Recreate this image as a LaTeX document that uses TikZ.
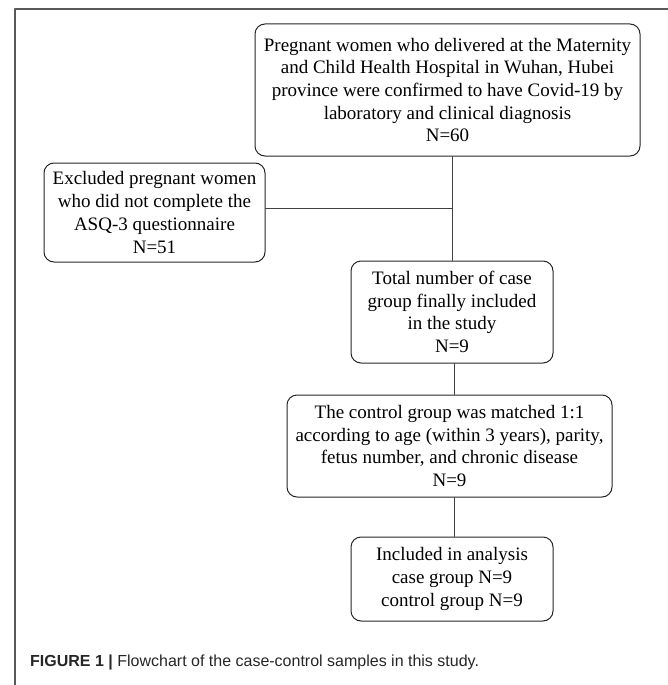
\documentclass[tikz,border=0pt]{standalone}
\usepackage{fontspec}
\setmainfont{Liberation Serif}
\setsansfont{Liberation Sans}
\begin{document}
\begin{tikzpicture}[
    x=1pt, y=-1pt,
    line cap=round,
    line join=round,
    frame/.style={draw=black!65, line width=1.1pt},
    box/.style={draw=black!85, line width=1pt, rounded corners=10pt, align=center, inner sep=0pt,
      font=\fontsize{19}{22.7}\selectfont, execute at begin node={\rule{0pt}{21pt}}},
    link/.style={draw=black!75, line width=0.9pt},
    caption/.style={anchor=west, inner sep=0pt, text=black!85, font=\sffamily\fontsize{16}{19}\selectfont}
]
\useasboundingbox (0,0) rectangle (668,685);

\draw[frame] (15,685) -- (15,9) -- (668,9);

\node[box, minimum width=385pt, minimum height=132pt] (covid) at (447.5,90)
  {Pregnant women who delivered at the Maternity\\and Child Health Hospital in Wuhan, Hubei\\province were confirmed to have Covid-19 by\\laboratory and clinical diagnosis\\N=60};

\node[box, minimum width=221pt, minimum height=99pt] (excl) at (154.5,212.5)
  {Excluded pregnant women\\who did not complete the\\ASQ-3 questionnaire\\N=51};

\node[box, minimum width=202pt, minimum height=102pt] (total) at (452,312)
  {Total number of case\\group finally included\\in the study\\N=9};

\node[box, minimum width=325pt, minimum height=102pt] (ctrl) at (449.5,446)
  {The control group was matched 1:1\\according to age (within 3 years), parity,\\fetus number, and chronic disease\\N=9};

\node[box, minimum width=202pt, minimum height=84pt] (incl) at (452,579)
  {Included in analysis\\case group N=9\\control group N=9};

\coordinate (split) at (452,208);

\draw[link] (total.north |- covid.south) -- (total.north);
\draw[link] (excl.east |- split) -- (split);
\draw[link] ([xshift=2pt]total.south) -- ([xshift=2pt]total.south |- ctrl.north);
\draw[link] ([xshift=2pt]total.south |- ctrl.south) -- ([xshift=2pt]total.south |- incl.north);

\node[caption] (cap) at (30,662) {\textbf{FIGURE 1 |} Flowchart of the case-control samples in this study.};
\end{tikzpicture}
\end{document}
